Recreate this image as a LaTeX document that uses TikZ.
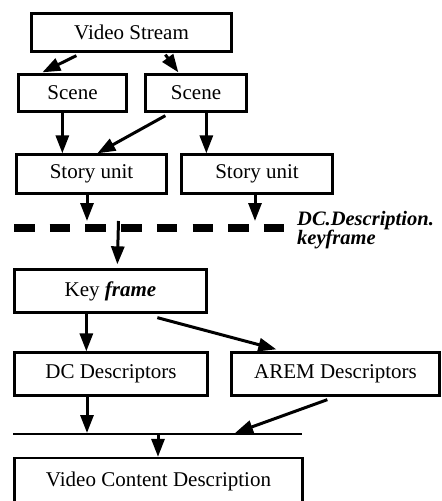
\documentclass[tikz,border=0pt]{standalone}
\usepackage{fontspec}
\setmainfont{Liberation Serif}
\usetikzlibrary{arrows.meta,calc}
\begin{document}
\begin{tikzpicture}[x=1pt,y=-1pt,
  box/.style={draw, line width=2.3pt, inner sep=0pt, font=\fontsize{21}{25}\selectfont},
  arr/.style={line width=3pt, -{Triangle[length=18pt,width=13pt]}},
  lab/.style={font=\fontsize{20.5}{22}\selectfont\bfseries\itshape, inner sep=0pt, anchor=base west}]
\useasboundingbox (0,0) rectangle (442,501);
\clip (0,0) rectangle (442,501);
% boxes
\node[box, minimum width=200pt, minimum height=38pt] (vs) at (131.5,32.5) {Video Stream};
\node[box, minimum width=108pt, minimum height=37pt] (sc1) at (72.5,93) {Scene};
\node[box, minimum width=101pt, minimum height=37pt] (sc2) at (196,93) {Scene};
\node[box, minimum width=150pt, minimum height=39pt] (su1) at (91.5,174) {Story unit};
\node[box, minimum width=151pt, minimum height=39pt] (su2) at (257,174) {Story unit};
\node[box, minimum width=192pt, minimum height=43pt] (kf) at (110.5,291) {Key \textbf{\textit{frame}}};
\node[box, minimum width=193pt, minimum height=43pt] (dc) at (111,374) {DC Descriptors};
\node[box, minimum width=208pt, minimum height=43pt] (arem) at (335.5,374) {AREM Descriptors};
\node[box, minimum width=288pt, minimum height=47pt] (vcd) at (158.5,481.5) {Video Content Description};
% bus lines
\coordinate (dl1) at (14,228);
\coordinate (dl2) at (286,228);
\coordinate (sl1) at (13,434);
\coordinate (sl2) at (302,434);
\draw[line width=7.5pt, dash pattern=on 20.5pt off 15.2pt] (dl1) -- (dl2);
\draw[line width=2.6pt] (sl1) -- (sl2);
% free ends on the bus lines
\coordinate (d1) at (87,221);
\coordinate (d2) at (255,221);
\coordinate (d3) at (118.5,221);
\coordinate (s1) at (87,433);
\coordinate (s2) at (235,433);
\coordinate (s3) at (158,435);
% labels
\node[lab] (lab1) at (297,225) {DC.Description.};
\node[lab] (lab2) at (297,244) {keyframe};
% connectors
\draw[arr] ($(vs.south west)+(46,3)$) -- ($(sc1.north west)+(25,-1)$);
\draw[arr] ($(vs.south west)+(135,2)$) -- ($(sc2.north west)+(34,-1)$);
\draw[arr] ($(sc1.south west)+(45,0)$) -- ($(su1.north west)+(47,0)$);
\draw[arr] ($(sc2.south west)+(21,3)$) -- ($(su1.north west)+(82,0)$);
\draw[arr] ($(sc2.south west)+(62,0)$) -- ($(su2.north west)+(26,0)$);
\draw[arr] (su1.south -| d1) -- (d1);
\draw[arr] (su2.south -| d2) -- (d2);
\draw[arr] (d3) -- ($(kf.north west)+(104,-4)$);
\draw[arr] ($(kf.south west)+(73,0)$) -- ($(dc.north west)+(73,0)$);
\draw[arr] ($(kf.south west)+(144,4)$) -- ($(arem.north west)+(46,-2)$);
\draw[arr] (dc.south -| s1) -- (s1);
\draw[arr] ($(arem.south west)+(97,3)$) -- (s2);
\draw[arr] (s3) -- (vcd.north -| s3);
\end{tikzpicture}
\end{document}
